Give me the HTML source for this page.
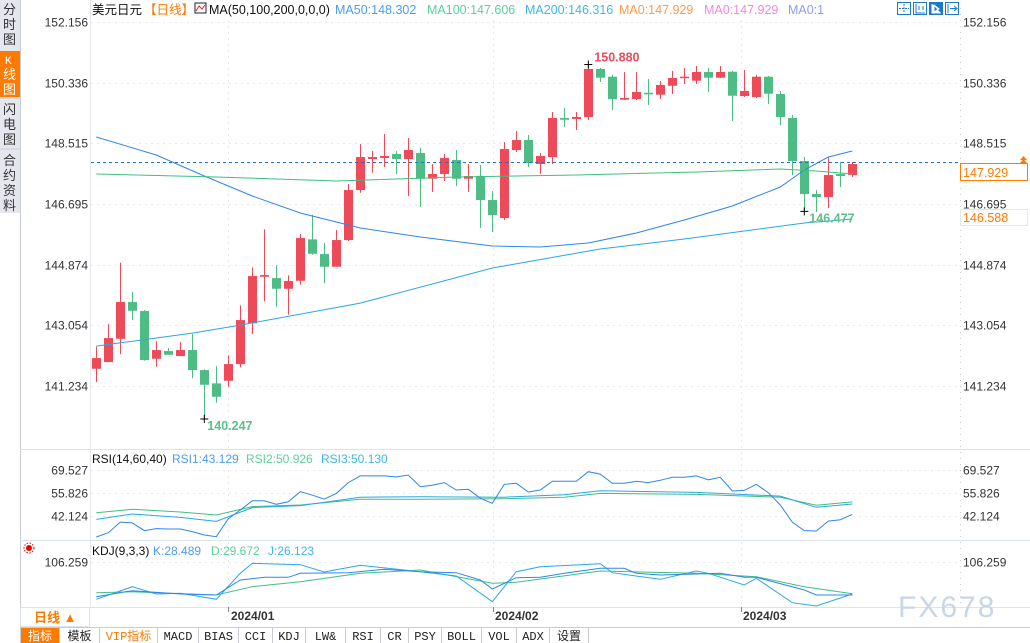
<!DOCTYPE html>
<html><head><meta charset="utf-8">
<style>
html,body{margin:0;padding:0;background:#fff;width:1030px;height:643px;overflow:hidden;font-family:"Liberation Sans","Noto Sans CJK SC",sans-serif;}
svg text{font-family:"Liberation Sans","Noto Sans CJK SC",sans-serif;}
.mono{font-family:"Liberation Mono","Noto Sans CJK SC",monospace;}
</style></head>
<body>
<svg id="chart" width="1030" height="643" viewBox="0 0 1030 643" xmlns="http://www.w3.org/2000/svg">
  <!-- left sidebar -->
  <rect x="0" y="0" width="20" height="213" fill="#e6e7ee"/>
  <line x1="20.5" y1="0" x2="20.5" y2="607" stroke="#c8ccd4"/>
  <g font-size="13" fill="#333">
    <text x="3" y="14">分</text><text x="3" y="29">时</text><text x="3" y="44">图</text>
  </g>
  <rect x="0" y="51" width="20" height="46" fill="#ff7a00"/>
  <g font-size="13" fill="#fff">
    <text x="5" y="64" font-size="11" class="mono">K</text><text x="3" y="79">线</text><text x="3" y="94">图</text>
  </g>
  <g font-size="13" fill="#333">
    <text x="3" y="114">闪</text><text x="3" y="129">电</text><text x="3" y="144">图</text>
  </g>
  <line x1="0" y1="149" x2="20" y2="149" stroke="#c8ccd4"/>
  <line x1="0" y1="98" x2="20" y2="98" stroke="#c8ccd4"/>
  <g font-size="13" fill="#333">
    <text x="3" y="165">合</text><text x="3" y="180">约</text><text x="3" y="195">资</text><text x="3" y="210">料</text>
  </g>

  <!-- frame lines -->
  <line x1="90.5" y1="0" x2="90.5" y2="607" stroke="#e4e8ee"/>
  <line x1="960.5" y1="8" x2="960.5" y2="607" stroke="#c8ccd4" stroke-dasharray="1,5"/>
  <line x1="20" y1="449.5" x2="1030" y2="449.5" stroke="#dde3ea"/>
  <line x1="20" y1="540.5" x2="1030" y2="540.5" stroke="#dde3ea"/>
  <line x1="20" y1="607.5" x2="1030" y2="607.5" stroke="#dde3ea"/>
  <line x1="20" y1="627.5" x2="1030" y2="627.5" stroke="#c8ccd4"/>

  <!-- header -->
  <g font-size="12.5">
    <text x="92" y="14" fill="#111">美元日元</text>
    <text x="144" y="14" fill="#ff7a00">【日线】</text>
    <rect x="195" y="3" width="11" height="10" fill="#fff" stroke="#223"/>
    <polyline points="196,11 199,6 202,9 205,5" fill="none" stroke="#d22"/>
    <text x="209" y="14" fill="#111">MA(50,100,200,0,0,0)</text>
    <text x="335" y="14" fill="#4c9cf0">MA50:148.302</text>
    <text x="427" y="14" fill="#5ccf9c">MA100:147.606</text>
    <text x="525" y="14" fill="#3fb7e6">MA200:146.316</text>
    <text x="619" y="14" fill="#ff9a4a">MA0:147.929</text>
    <text x="704" y="14" fill="#f08ad8">MA0:147.929</text>
    <text x="788" y="14" fill="#8f9af5">MA0:1</text>
  </g>
  <!-- top right tool icons -->
  <g>
    <rect x="897.5" y="2.5" width="13" height="12" fill="#fff" stroke="#1e78c8"/>
    <path d="M904 4v9M899 8.5h10" stroke="#1e78c8" stroke-dasharray="2,1"/>
    <rect x="913.5" y="2.5" width="13" height="12" fill="#fff" stroke="#1e78c8"/>
    <path d="M916 4v9h9M919 6v4M923 6v4" stroke="#1e78c8" fill="none"/>
    <rect x="929.5" y="2.5" width="13" height="12" fill="#1e78c8" stroke="#1e78c8"/>
    <path d="M932 4v9h9M934 5l5 4-5 3z" stroke="#fff" fill="#fff"/>
    <rect x="945.5" y="2.5" width="13" height="12" fill="#fff" stroke="#1e78c8"/>
    <path d="M948 4v9M950 8.5h6M954 6l3 2.5-3 2.5" stroke="#1e78c8" fill="none"/>
  </g>

  <g id="grid"></g>
  <g id="mainPlot"></g>
  <g id="rsiPlot"></g>
  <g id="kdjPlot"></g>
  <g id="axes" font-size="12" fill="#333"></g>

  <!-- current price -->
  <line x1="91" y1="162.5" x2="960" y2="162.5" stroke="#1e6fd9" stroke-dasharray="3,3"/>
  <rect x="960.5" y="163.5" width="67" height="17" fill="#fff" stroke="#ff7a00"/>
  <text x="963" y="177" font-size="12.5" fill="#ff7a00">147.929</text>
  <path d="M1020 160l3.5-4 3.5 4zM1020 163l3.5-4 3.5 4z" fill="#ff7a00"/>
  <rect x="960.5" y="209.5" width="67" height="16" fill="#fff" stroke="#e4e8ee"/>
  <text x="963" y="222" font-size="12.5" fill="#ff7a00">146.588</text>

  <!-- panel titles -->
  <g font-size="12">
    <text x="92" y="463" fill="#111">RSI(14,60,40)</text>
    <text x="172" y="463" fill="#4c9cf0">RSI1:43.129</text>
    <text x="246" y="463" fill="#5ccf9c">RSI2:50.926</text>
    <text x="321" y="463" fill="#3fb7e6">RSI3:50.130</text>
  </g>
  <g>
    <circle cx="29" cy="548" r="3" fill="#e00"/>
    <circle cx="29" cy="548" r="5" fill="none" stroke="#e00" stroke-dasharray="1.5,1.5"/>
  </g>
  <g font-size="12">
    <text x="92" y="555" fill="#111">KDJ(9,3,3)</text>
    <text x="153" y="555" fill="#4c9cf0">K:28.489</text>
    <text x="211" y="555" fill="#5ccf9c">D:29.672</text>
    <text x="268" y="555" fill="#3fb7e6">J:26.123</text>
  </g>

  <!-- x axis labels -->
  <g font-size="12" font-weight="bold" fill="#333">
    <line x1="228.5" y1="607" x2="228.5" y2="612" stroke="#888"/>
    <text x="231" y="620">2024/01</text>
    <line x1="493.5" y1="607" x2="493.5" y2="612" stroke="#888"/>
    <text x="495" y="620">2024/02</text>
    <line x1="741.5" y1="607" x2="741.5" y2="612" stroke="#888"/>
    <text x="743" y="620">2024/03</text>
  </g>
  <text x="898" y="617" font-size="30" fill="#c9d6e6" letter-spacing="2">FX678</text>

  <!-- period button -->
  <rect x="20.5" y="607.5" width="69" height="19" fill="#fff" stroke="#dde3ea"/>
  <text x="34" y="622" font-size="13" fill="#ff7a00" font-weight="bold">日线 ▲</text>

  <!-- bottom toolbar -->
  <g id="toolbar" font-size="12"></g>
</svg>
<script>
// ---------- data ----------
const candleOpen  = [141.755,141.956,142.655,143.756,143.486,142.055,142.286,142.136,142.316,141.716,141.317,141.395,141.896,143.117,144.515,144.476,144.155,144.395,145.637,145.196,144.815,145.616,147.116,148.046,148.076,148.196,148.046,148.226,147.455,147.596,148.016,147.455,147.536,146.816,146.276,148.316,148.616,147.896,148.106,149.276,149.246,149.306,150.746,150.515,149.825,149.846,150.035,149.975,150.245,150.485,150.395,150.656,150.485,150.665,149.936,149.906,150.515,149.996,149.276,147.986,146.996,146.906,147.596,147.566];
const candleHigh  = [142.415,143.096,144.935,144.056,143.516,142.586,142.376,142.556,142.796,141.737,141.836,142.157,143.657,144.797,145.937,144.857,144.557,145.796,146.375,145.526,145.916,147.296,148.496,148.286,148.796,148.286,148.676,148.376,147.896,148.196,148.316,147.896,147.866,147.086,148.556,148.886,148.766,148.226,149.456,149.576,149.456,150.880,150.776,150.575,150.656,150.656,150.446,150.386,150.686,150.776,150.836,150.776,150.836,150.686,150.716,150.575,150.536,150.086,149.366,148.106,147.116,148.106,147.956,147.956];
const candleLow   = [141.356,141.950,142.196,143.216,141.995,141.815,142.175,142.136,141.476,140.247,140.735,141.215,141.797,142.796,143.777,143.615,143.375,144.275,145.175,144.317,144.815,145.586,147.035,147.635,147.806,147.596,146.936,146.606,147.056,147.386,147.236,147.056,145.976,145.856,146.216,148.256,147.806,147.596,147.896,149.006,148.916,149.216,150.356,149.516,149.816,149.816,149.666,149.846,149.996,150.296,150.296,150.056,150.476,149.186,149.906,149.876,149.696,149.066,147.566,146.477,146.456,146.576,147.206,147.506];
const candleClose = [142.076,142.676,143.756,143.495,142.016,142.316,142.175,142.316,141.716,141.275,140.915,141.896,143.216,144.536,144.566,144.155,144.386,145.676,145.205,144.815,145.616,147.116,148.106,148.106,148.136,148.046,148.316,147.455,147.596,148.076,147.455,147.536,146.816,146.366,148.346,148.616,147.926,148.136,149.276,149.225,149.306,150.746,150.485,149.846,149.876,150.056,149.987,150.266,150.476,150.515,150.656,150.485,150.656,149.945,150.086,150.515,150.005,149.306,147.986,146.996,146.906,147.566,147.536,147.896];

const ma50Idx  = [0,5,9,13,17,22,27,33,37,41,45,49,53,57,59,61,63];
const ma50Val  = [148.706,148.166,147.536,146.936,146.426,145.976,145.706,145.436,145.406,145.526,145.826,146.216,146.636,147.206,147.716,148.106,148.286];
const ma100Idx = [0,10,20,30,40,50,57,60,63];
const ma100Val = [147.596,147.506,147.386,147.506,147.566,147.656,147.746,147.686,147.596];
const ma200Idx = [0,8,12,22,33,42,49,59,63];
const ma200Val = [142.436,142.826,143.066,143.726,144.776,145.346,145.646,146.126,146.246];

const priceTicks = [152.156,150.336,148.515,146.695,144.874,143.054,141.234];
const rsiTicks = [69.527,55.826,42.124];
const kdjTicks = [106.259];

const rsi1 = [29.6,32.2,38.5,38.0,33.4,34.6,34.4,34.4,32.8,30.8,29.8,40.5,45.7,51.2,51.2,49.1,50.6,56.6,54.5,52.2,55.6,62.0,66.0,66.0,66.0,65.4,66.5,59.6,60.4,62.0,57.6,58.0,52.7,49.7,61.0,61.6,56.4,57.6,62.8,62.8,62.8,68.5,67.1,61.6,61.6,62.8,62.0,63.4,65.2,65.2,66.0,63.6,65.2,57.0,57.4,61.0,56.0,48.7,38.4,33.4,33.2,39.1,39.9,43.1];
const rsiSmoothIdx = [0,3,7,10,13,17,22,27,34,39,42,50,57,60,63];
const rsi2 = [44.1,46.1,44.5,42.7,47.7,48.7,52.1,52.1,52.4,53.3,55.6,55.0,53.3,48.5,50.5];
const rsi3 = [40.1,43.3,41.3,38.9,47.1,48.3,53.3,53.6,53.3,54.8,57.2,56.2,54.0,47.3,49.3];

const kIdx = [0,3,7,10,12,14,16,17,21,24,27,30,32,33,35,37,39,42,44,45,47,52,54,55,59,60,63];
const kVal = [24.5,38.6,30.9,28.5,63.8,70.2,70.2,79.6,81.0,89.0,83.4,81.0,63.8,42.6,69.2,70.2,79.6,91.4,91.4,79.6,75.6,79.6,70.2,70.2,40.3,28.5,28.5];
const dIdx = [0,3,10,13,17,22,27,33,35,42,50,55,59,63];
const dVal = [33.9,36.3,28.5,48.0,59.8,79.6,87.4,56.1,58.4,85.0,79.6,71.6,48.0,31.5];
const jIdx = [0,3,5,7,9,10,12,13,17,19,22,27,30,33,35,37,42,43,47,50,51,54,55,58,60,63];
const jVal = [18.4,48.0,30.9,32.5,23.1,18.4,79.6,103.2,99.9,82.7,98.5,83.4,73.3,12.7,83.4,95.2,102.3,81.0,65.5,85.0,79.6,52.1,67.9,10.3,2.6,30.9];

const toolbarLabels = ['指标','模板','VIP指标','MACD','BIAS','CCI','KDJ','LW&','RSI','CR','PSY','BOLL','VOL','ADX','设置'];

// ---------- scales ----------
const NS='http://www.w3.org/2000/svg';
function xI(i){return 96.3+12*i;}
function yP(p){return 22+(152.156-p)*33.34;}
function yR(v){return 470+(69.527-v)*1.6786;}
function yK(v){return 562+(106.259-v)*0.4243;}
function mk(tag,attrs,parent){const e=document.createElementNS(NS,tag);for(const k in attrs)e.setAttribute(k,attrs[k]);parent.appendChild(e);return e;}

const grid=document.getElementById('grid');
const axes=document.getElementById('axes');
const mainPlot=document.getElementById('mainPlot');
const rsiPlot=document.getElementById('rsiPlot');
const kdjPlot=document.getElementById('kdjPlot');

// grid + price ticks
priceTicks.forEach(function(t){
  const y=Math.round(yP(t))+0.5;
  const g=mk('line',{x1:91,y1:y,x2:960,y2:y,stroke:'#e6e9ee','stroke-dasharray':'2,4'},grid);
  
  
  const l=mk('text',{x:88,y:y+4,'text-anchor':'end'},axes);
  l.textContent=t.toFixed(3);
  
  
  const r=mk('text',{x:963,y:y+4},axes);
  r.textContent=t.toFixed(3);
  
  
});
[228.5,493.5,741.5].forEach(function(x){
  const v=mk('line',{x1:x,y1:20,x2:x,y2:607,stroke:'#e6e9ee','stroke-dasharray':'2,4'},grid);
  
  
});
rsiTicks.forEach(function(t){
  const y=Math.round(yR(t))+0.5;
  const g=mk('line',{x1:91,y1:y,x2:960,y2:y,stroke:'#e6e9ee','stroke-dasharray':'2,4'},grid);
  
  
  const l=mk('text',{x:88,y:y+4,'text-anchor':'end'},axes);
  l.textContent=t.toFixed(3);
  
  
  const r=mk('text',{x:963,y:y+4},axes);
  r.textContent=t.toFixed(3);
  
  
});
kdjTicks.forEach(function(t){
  const y=Math.round(yK(t))+0.5;
  const g=mk('line',{x1:91,y1:y,x2:960,y2:y,stroke:'#e6e9ee','stroke-dasharray':'2,4'},grid);
  
  
  const l=mk('text',{x:88,y:y+4,'text-anchor':'end'},axes);
  l.textContent=t.toFixed(3);
  
  
  const r=mk('text',{x:963,y:y+4},axes);
  r.textContent=t.toFixed(3);
  
  
});

// candles
candleOpen.forEach(function(o,i){
  const c=candleClose[i],h=candleHigh[i],l=candleLow[i];
  const up=c>=o, col=up?'#ee4b5a':'#4fbb85';
  const x=Math.round(xI(i));
  const w=mk('line',{x1:x+0.5,y1:yP(h),x2:x+0.5,y2:yP(l),stroke:col,'stroke-width':1},mainPlot);
  
  
  const top=yP(Math.max(o,c)), bh=Math.max(1.5,yP(Math.min(o,c))-top);
  const b=mk('rect',{x:x-4,y:top,width:9,height:bh,fill:col},mainPlot);
  
  
});

function polyFrom(idx,vals,yf,color,parent,name){
  const pts=idx.map(function(i,k){return xI(i).toFixed(1)+','+yf(vals[k]).toFixed(1);}).join(' ');
  const pl=mk('polyline',{points:pts,fill:'none',stroke:color,'stroke-width':1},parent);
  
  
}
polyFrom(ma50Idx,ma50Val,yP,'#2f86ea',mainPlot,'ma50-line');
polyFrom(ma100Idx,ma100Val,yP,'#3fbf84',mainPlot,'ma100-line');
polyFrom(ma200Idx,ma200Val,yP,'#2aa7e6',mainPlot,'ma200-line');

// high / low markers
function marker(i,p,label,color,dx,dy,name){
  const x=xI(i), y=yP(p);
  const m=mk('path',{d:'M'+(x-4)+' '+y+'h8M'+x+' '+(y-4)+'v8',stroke:'#000','stroke-width':1},mainPlot);
  
  
  const t=mk('text',{x:x+dx,y:y+dy,'font-size':12.5,'font-weight':'bold',fill:color},mainPlot);
  t.textContent=label;
  
  
}
const hiIdx=candleHigh.indexOf(Math.max.apply(null,candleHigh));
const loIdx=candleLow.indexOf(Math.min.apply(null,candleLow));
marker(hiIdx,candleHigh[hiIdx],candleHigh[hiIdx].toFixed(3),'#ee4b5a',6,-3,'period-high');
marker(loIdx,candleLow[loIdx],candleLow[loIdx].toFixed(3),'#5cc08e',3,11,'period-low');
marker(59,candleLow[59],candleLow[59].toFixed(3),'#5cc08e',5,11,'recent-low');

// RSI
polyFrom(rsiSmoothIdx,rsi2,yR,'#3fbf84',rsiPlot,'rsi2-line');
polyFrom(rsiSmoothIdx,rsi3,yR,'#2aa7e6',rsiPlot,'rsi3-line');
polyFrom(rsi1.map(function(v,i){return i;}),rsi1,yR,'#2f86ea',rsiPlot,'rsi1-line');

// KDJ
polyFrom(dIdx,dVal,yK,'#3fbf84',kdjPlot,'kdj-d-line');
polyFrom(jIdx,jVal,yK,'#2aa7e6',kdjPlot,'kdj-j-line');
polyFrom(kIdx,kVal,yK,'#2f86ea',kdjPlot,'kdj-k-line');

// toolbar
const tb=document.getElementById('toolbar');
const tbWidths=[39,40,58,41,40,34,33,40,35,28,33,40,35,33,39];
let tx=20;
toolbarLabels.forEach(function(lbl,i){
  const w=tbWidths[i];
  const r=mk('rect',{x:tx+0.5,y:627.5,width:w,height:16,fill:i===0?'#ff7a00':'#fff',stroke:'#c8ccd4'},tb);
  
  
  const t=mk('text',{x:tx+w/2+0.5,y:640,'text-anchor':'middle',fill:i===0?'#fff':(i===2?'#ff7a00':'#222'),'font-size':12},tb);
  t.setAttribute('class','mono');
  t.textContent=lbl;
  
  
  tx+=w;
});
</script>
</body></html>
